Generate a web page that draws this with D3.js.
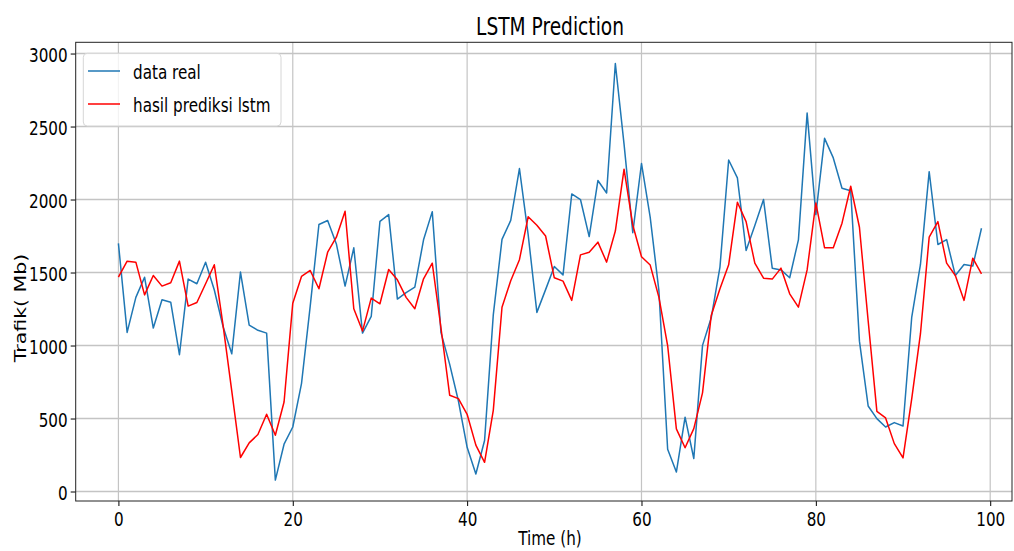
<!DOCTYPE html>
<html><head><meta charset="utf-8">
<script src="https://cdn.jsdelivr.net/npm/d3@7/dist/d3.min.js"></script>
<style>
body{margin:0;background:#fff}
svg{display:block}
text{font-family:"DejaVu Sans",sans-serif;fill:#000}
</style>
</head><body>
<svg id="chart" width="1014" height="551"></svg>
<script>
const titleText = "LSTM Prediction";
const xLabel = "Time (h)";
const yLabel = "Trafik( Mb)";
const seriesNames = ["data real", "hasil prediksi lstm"];
const xTicks = [0, 20, 40, 60, 80, 100];
const yTicks = [0, 500, 1000, 1500, 2000, 2500, 3000];

const dataReal = [
  1700,1090,1330,1468,1120,1313,1297,937,1455,1423,
  1570,1380,1130,943,1503,1140,1104,1085,78,324,
  442,739,1270,1829,1856,1696,1407,1669,1085,1199,
  1851,1897,1318,1363,1400,1724,1917,1088,871,620,
  303,120,349,1210,1727,1857,2212,1760,1227,1383,
  1541,1484,2038,2000,1746,2130,2045,2932,2379,1773,
  2247,1878,1374,290,133,509,226,1001,1190,1537,
  2271,2148,1651,1822,2000,1530,1518,1464,1724,2592,
  1897,2419,2285,2077,2060,1030,586,499,442,472,
  449,1195,1555,2191,1692,1726,1480,1555,1544,1803
];
const prediksiLstm = [
  1468,1578,1571,1347,1480,1407,1430,1578,1270,1295,
  1423,1553,1140,690,233,333,390,529,385,613,
  1290,1473,1514,1389,1639,1742,1920,1252,1099,1325,
  1286,1521,1450,1330,1252,1457,1564,1120,659,636,
  529,318,200,556,1262,1444,1588,1882,1824,1750,
  1464,1441,1309,1621,1639,1708,1571,1784,2208,1826,
  1608,1551,1330,1000,429,300,431,676,1206,1389,
  1553,1981,1849,1564,1461,1455,1530,1354,1263,1518,
  1977,1669,1669,1838,2091,1810,1170,549,504,328,
  230,636,1081,1742,1849,1564,1480,1309,1598,1491
];
const hours = dataReal.map((d, i) => i);

const SX = 0.76; // horizontal squeeze of the text
const svg = d3.select("#chart");
const L = 75.7, R = 1012, T = 42.3, B = 501;

const x = d3.scaleLinear().domain([-4.9, 102.5]).range([L, R]);
const y = d3.scaleLinear().domain([-65, 3077]).range([B, T]);

// grid
const g = svg.append("g");
g.selectAll("line.gx").data(xTicks).enter().append("line")
  .attr("x1", d => x(d)).attr("x2", d => x(d)).attr("y1", T).attr("y2", B)
  .attr("stroke", "#c4c4c4").attr("stroke-width", 1.2);
g.selectAll("line.gy").data(yTicks).enter().append("line")
  .attr("x1", L).attr("x2", R).attr("y1", d => y(d)).attr("y2", d => y(d))
  .attr("stroke", "#c4c4c4").attr("stroke-width", 1.5);

// lines
const line = d3.line().x((d, i) => x(hours[i])).y(d => y(d));
svg.append("path").datum(dataReal).attr("d", line)
  .attr("fill", "none").attr("stroke", "#1f77b4").attr("stroke-width", 1.5).attr("stroke-linejoin", "round");
svg.append("path").datum(prediksiLstm).attr("d", line)
  .attr("fill", "none").attr("stroke", "#ff0000").attr("stroke-width", 1.5).attr("stroke-linejoin", "round");

// axes
const xAxis = svg.append("g").attr("transform", `translate(0,${B})`)
  .call(d3.axisBottom(x).tickValues(xTicks).tickFormat(d3.format("d")).tickSize(5).tickPadding(3).tickSizeOuter(0));
xAxis.select(".domain").remove();
xAxis.selectAll("text").attr("font-size", 20).attr("font-family", "DejaVu Sans")
  .attr("y", 0).attr("dy", 0)
  .attr("transform", `translate(0,25) scale(${SX},1)`);
xAxis.selectAll(".tick line").attr("stroke", "#000");

const yAxis = svg.append("g").attr("transform", `translate(${L},0)`)
  .call(d3.axisLeft(y).tickValues(yTicks).tickFormat(d3.format("d")).tickSize(5).tickPadding(3).tickSizeOuter(0));
yAxis.select(".domain").remove();
yAxis.selectAll("text").attr("font-size", 20).attr("font-family", "DejaVu Sans")
  .attr("x", 0).attr("dy", 0).attr("y", 0)
  .attr("transform", `translate(-8,7.5) scale(${SX},1)`);
yAxis.selectAll(".tick line").attr("stroke", "#000");

// frame
svg.append("rect").attr("x", L).attr("y", T).attr("width", R - L).attr("height", B - T)
  .attr("fill", "none").attr("stroke", "#222").attr("stroke-width", 1);

// title and labels
svg.append("text").text(titleText).attr("text-anchor", "middle").attr("font-size", 24.5)
  .attr("transform", `translate(550,35) scale(${SX},1)`);
svg.append("text").text(xLabel).attr("text-anchor", "middle").attr("font-size", 20)
  .attr("transform", `translate(550,545) scale(${SX},1)`);
svg.append("text").text(yLabel).attr("text-anchor", "middle").attr("font-size", 20.5)
  .attr("transform", `translate(26,308) rotate(-90) scale(1,${SX})`);

// legend
const lg = svg.append("g");
lg.append("rect").attr("x", 83.3).attr("y", 53.3).attr("width", 197.7).attr("height", 72.7)
  .attr("rx", 4).attr("fill", "#fff").attr("fill-opacity", 0.8).attr("stroke", "#d6d6d6").attr("stroke-width", 1);
const colors = ["#1f77b4", "#ff0000"];
seriesNames.forEach((name, i) => {
  const yy = 71 + i * 33;
  lg.append("line").attr("x1", 88).attr("x2", 120).attr("y1", yy).attr("y2", yy)
    .attr("stroke", colors[i]).attr("stroke-width", 1.5);
  lg.append("text").text(name).attr("font-size", 20)
    .attr("transform", `translate(133,${yy + 8}) scale(${SX},1)`);
});
</script>
</body></html>
